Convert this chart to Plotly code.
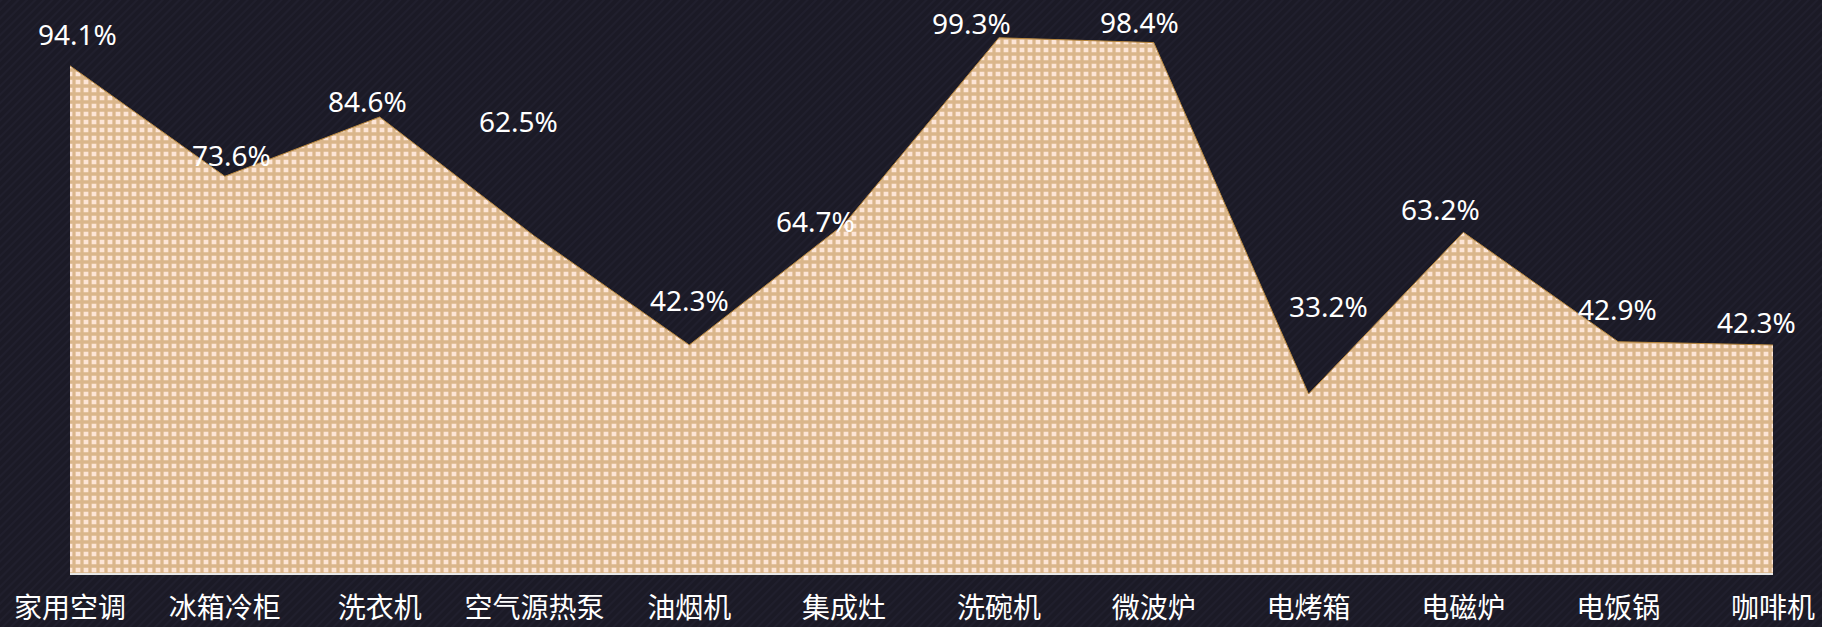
"""Area chart: appliance penetration with grid-pattern fill"""
import base64
import plotly.graph_objects as go

# Data
categories = ["家用空调", "冰箱冷柜", "洗衣机", "空气源热泵", "油烟机", "集成灶",
              "洗碗机", "微波炉", "电烤箱", "电磁炉", "电饭锅", "咖啡机"]
values = [94.1, 73.6, 84.6, 62.5, 42.3, 64.7, 99.3, 98.4, 33.2, 63.2, 42.9, 42.3]

# label nudges in pixels (x right, y up) - the labels in the source are scattered
label_dx = [7, 7, -12, -16, 0, -29, -27, -14, 20, -23, -1, -17]
label_dy = [32, 21, 16, 115, 45, 3, 15, 21, 88, 23, 33, 23]

W, H = 1822, 627
M = dict(l=70, r=49, t=34, b=54)
BG = "#1b1a26"

# subtle diagonal stripes for the page background
svg = (
    f"<svg xmlns='http://www.w3.org/2000/svg' width='{W}' height='{H}'>"
    "<defs><pattern id='p' width='6' height='6' patternUnits='userSpaceOnUse' "
    "patternTransform='rotate(45)'>"
    f"<rect width='6' height='6' fill='{BG}'/><rect width='2' height='6' fill='#201f2d'/>"
    "</pattern></defs><rect width='100%' height='100%' fill='url(#p)'/></svg>"
)
bg_src = "data:image/svg+xml;base64," + base64.b64encode(svg.encode()).decode()

pw = W - M["l"] - M["r"]
ph = H - M["t"] - M["b"]

fig = go.Figure()
fig.add_trace(go.Scatter(
    x=categories,
    y=values,
    mode="lines",
    fill="tozeroy",
    line=dict(color="#b8873f", width=1),
    fillcolor="#fde5d6",
    fillpattern=dict(shape="+", fgcolor="#b8873f", bgcolor="#fde5d6",
                     size=8, solidity=0.65),
    hoverinfo="x+y",
    showlegend=False,
))

for i, (c, v) in enumerate(zip(categories, values)):
    fig.add_annotation(
        x=c, y=v, text=f"{v:.1f}%", showarrow=False,
        xshift=label_dx[i], yshift=label_dy[i],
        font=dict(size=28, color="#ffffff"),
    )

fig.add_layout_image(dict(
    source=bg_src, xref="paper", yref="paper",
    x=-M["l"] / pw, y=1 + M["t"] / ph,
    sizex=W / pw, sizey=H / ph,
    sizing="stretch", layer="below", xanchor="left", yanchor="top",
))

fig.update_layout(
    width=W, height=H,
    margin=M,
    paper_bgcolor=BG,
    plot_bgcolor="rgba(0,0,0,0)",
    font=dict(family="Noto Sans, Noto Sans CJK SC, sans-serif", color="#ffffff"),
    showlegend=False,
)

fig.update_xaxes(
    type="category", range=[0, len(categories) - 1],
    automargin=False,
    showgrid=False, zeroline=False,
    showline=True, linecolor="#e8e8e8", linewidth=2,
    tickfont=dict(size=28, color="#ffffff",
                  family="Noto Sans CJK SC, Noto Sans, sans-serif"),
    ticks="", ticklabelstandoff=9,
)
fig.update_yaxes(
    range=[0, 100], visible=False, automargin=False,
    showgrid=False, zeroline=False,
)

# drop the default page margin so the chart fills the window exactly
fig.write_html("out.html", config={"displayModeBar": False},
               post_script="document.body.style.margin='0';")
